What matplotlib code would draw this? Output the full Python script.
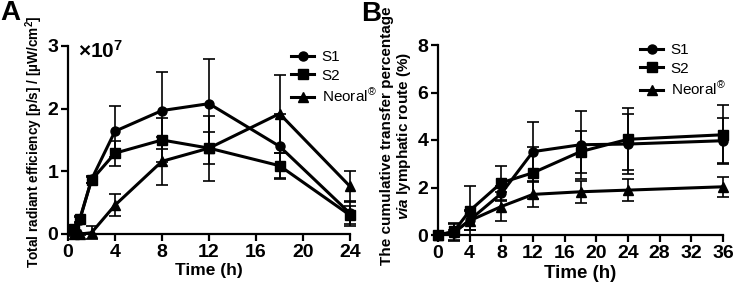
import matplotlib
matplotlib.use("Agg")
import matplotlib.pyplot as plt

plt.rcParams['font.family'] = ['Liberation Sans', 'DejaVu Sans']
plt.rcParams['mathtext.fontset'] = 'custom'
plt.rcParams['mathtext.rm'] = 'Liberation Sans'
plt.rcParams['mathtext.it'] = 'Liberation Sans:italic'
plt.rcParams['mathtext.bf'] = 'Liberation Sans:bold'
plt.rcParams['mathtext.bfit'] = 'Liberation Sans:italic:bold'

# ---- Panel A data (x1e7) ----
a_time = [0.5, 1, 2, 4, 8, 12, 18, 24]
a_s1 = [0.05, 0.22, 0.87, 1.64, 1.97, 2.08, 1.40, 0.33]
a_s1_err = [0.08, 0.05, 0.05, 0.41, 0.61, 0.72, 0.52, 0.20]
a_s2 = [0.08, 0.24, 0.86, 1.29, 1.50, 1.37, 1.09, 0.30]
a_s2_err = [0.07, 0.05, 0.05, 0.20, 0.35, 0.25, 0.20, 0.14]
a_neo = [0.0, 0.0, 0.02, 0.46, 1.16, 1.37, 1.92, 0.76]
a_neo_err = [0.02, 0.02, 0.10, 0.18, 0.38, 0.52, 0.62, 0.25]

# ---- Panel B data (%) ----
b_time = [0, 2, 4, 8, 12, 18, 24, 36]
b_s1 = [0.0, 0.10, 0.63, 1.75, 3.51, 3.80, 3.83, 3.97]
b_s1_err = [0.0, 0.35, 0.42, 0.30, 1.23, 1.43, 1.27, 0.95]
b_s2 = [0.0, 0.15, 1.02, 2.20, 2.62, 3.51, 4.03, 4.22]
b_s2_err = [0.0, 0.34, 1.03, 0.72, 1.10, 0.88, 1.30, 1.25]
b_neo = [0.0, 0.12, 0.60, 1.20, 1.71, 1.82, 1.89, 2.03]
b_neo_err = [0.0, 0.10, 0.40, 0.62, 0.52, 0.47, 0.45, 0.42]

series_names = ['S1', 'S2', 'Neoral$^{\\mathrm{®}}$']
markers = ['o', 's', '^']

fig = plt.figure(figsize=(7.33, 2.88), dpi=100)
axA = fig.add_axes([68/733, 1-234/288, 282/733, 188/288])
axB = fig.add_axes([438/733, 1-235/288, 285/733, 190/288])

def style(ax):
    for s in ['top', 'right']:
        ax.spines[s].set_visible(False)
    for s in ['left', 'bottom']:
        ax.spines[s].set_linewidth(1.6)
    ax.tick_params(direction='out', length=5, width=1.6, labelsize=14, pad=2)
    for lab in ax.get_xticklabels() + ax.get_yticklabels():
        lab.set_fontweight('bold')

def draw(ax, t, ys, errs):
    handles = []
    for y, e, m, n in zip(ys, errs, markers, series_names):
        h = ax.errorbar(t, y, yerr=e, color='black', lw=2.2, marker=m, ms=6.5,
                        elinewidth=1.2, capsize=4, capthick=1.2, label=n,
                        clip_on=False, zorder=3)
        handles.append(h)
    leg = ax.legend(handles=[h[0] for h in handles], labels=series_names,
                    frameon=False, fontsize=11, handlelength=1.5,
                    handletextpad=0.5, labelspacing=0.3,
                    loc='upper left', borderaxespad=0)
    return leg

legA = draw(axA, a_time, [a_s1, a_s2, a_neo], [a_s1_err, a_s2_err, a_neo_err])
legA.set_bbox_to_anchor((285/733, 1-44/288), transform=fig.transFigure)
axA.set_xlim(0, 24)
axA.set_ylim(0, 3)
axA.set_xticks([0, 4, 8, 12, 16, 20, 24])
axA.set_yticks([0, 1, 2, 3])
axA.set_xlabel('Time (h)', fontsize=12.5, fontweight='bold', labelpad=2)
axA.set_ylabel('Total radiant efficiency [p/s] / [µW/cm$^{\\mathbf{2}}$]',
               fontsize=9.8, fontweight='bold')
axA.yaxis.set_label_coords(-0.08, 0.49)
axA.text(78/733, 1-51/288, '×10$^{\\mathbf{7}}$', transform=fig.transFigure,
         fontsize=15, fontweight='bold', va='center', ha='left')
style(axA)

legB = draw(axB, b_time, [b_s1, b_s2, b_neo], [b_s1_err, b_s2_err, b_neo_err])
legB.set_bbox_to_anchor((634/733, 1-37/288), transform=fig.transFigure)
axB.set_xlim(0, 36)
axB.set_ylim(0, 8)
axB.set_xticks([0, 4, 8, 12, 16, 20, 24, 28, 32, 36])
axB.set_yticks([0, 2, 4, 6, 8])
axB.set_xlabel('Time (h)', fontsize=13.5, fontweight='bold', labelpad=2)
axB.set_ylabel('The cumulative transfer percentage\n$\\mathbfit{via}$ lymphatic route (%)',
               fontsize=11, fontweight='bold', linespacing=1.05)
axB.yaxis.set_label_coords(-0.088, 0.52)
style(axB)

fig.text(0/733, 1-13/288, 'A', fontsize=20, fontweight='bold', va='center', ha='left')
fig.text(361/733, 1-14/288, 'B', fontsize=20, fontweight='bold', va='center', ha='left')

fig.savefig('out.png', dpi=100)
